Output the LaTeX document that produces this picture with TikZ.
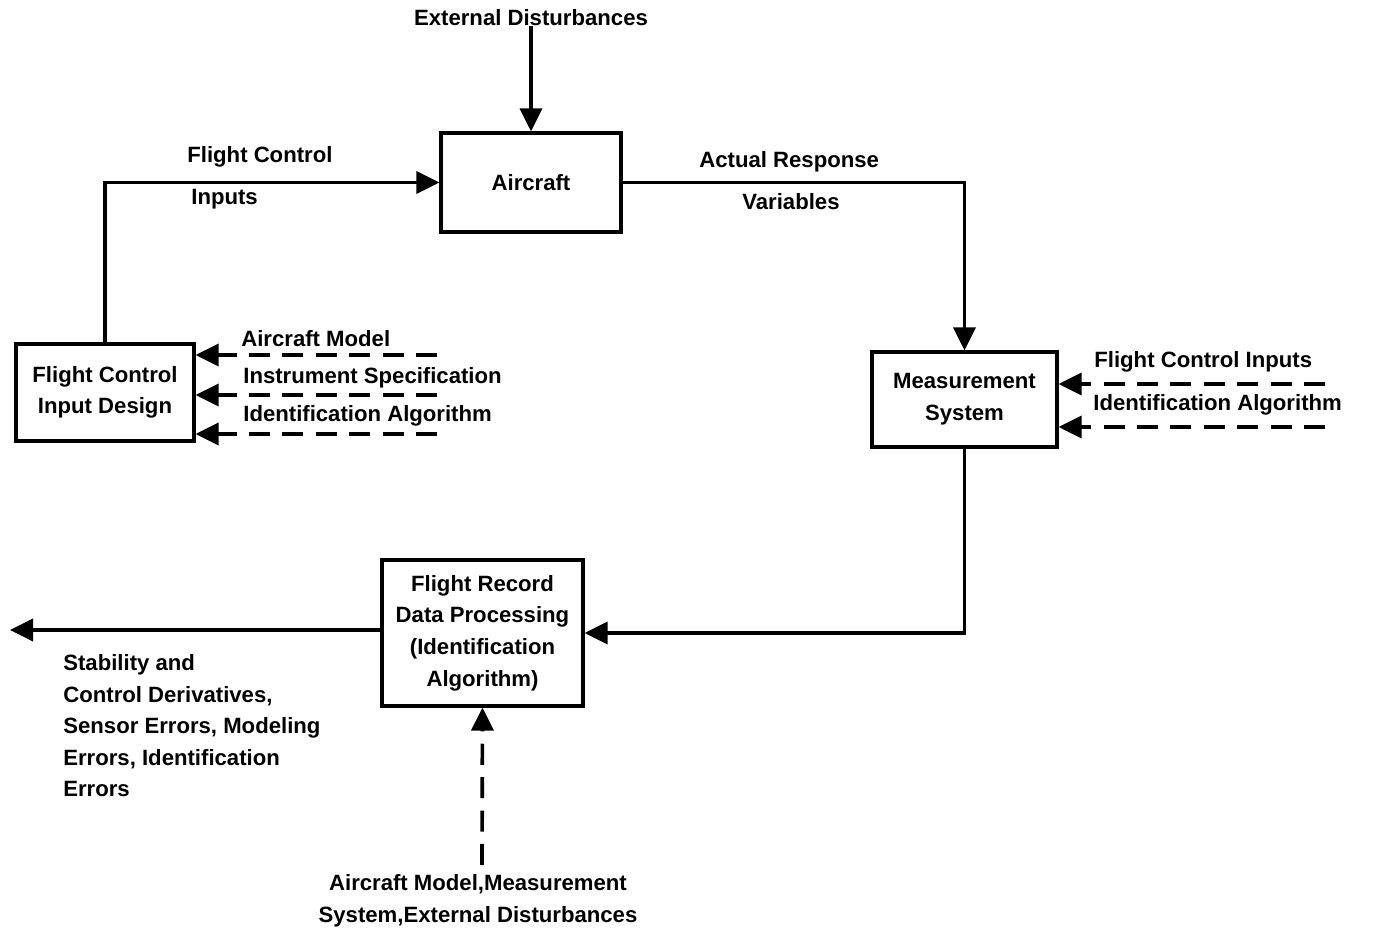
\documentclass[tikz,border=0pt]{standalone}
\usepackage{fontspec}
\setmainfont{Liberation Sans}
\usetikzlibrary{arrows.meta,positioning}

\begin{document}
\begin{tikzpicture}[
    box/.style={rectangle, draw, line width=1.8pt, align=center,
                font=\fontsize{12.6}{18}\selectfont\bfseries},
    lbl/.style={font=\fontsize{12.6}{18}\selectfont\bfseries, inner sep=0pt},
    arr/.style={-{Triangle[length=4.6mm,width=4.4mm]}, line width=2.1pt},
    dasharr/.style={arr, dash pattern=on 12pt off 7pt},
  ]
  \useasboundingbox (0,0) rectangle (27.48,-18.66);

  % Aircraft
  \node[box, minimum width=3.6cm, minimum height=1.98cm] (ac) at (10.62,-3.65)
    {Aircraft};
  \node[lbl] (ext) at (10.62,-0.36) {External Disturbances};

  % Input design
  \node[box, minimum width=3.56cm, minimum height=1.94cm] (fcid) at (2.1,-7.85)
    {Flight Control\\Input Design};

  % Measurement system
  \node[box, minimum width=3.7cm, minimum height=1.9cm] (meas) at (19.29,-7.99)
    {Measurement\\System};

  % Data processing
  \node[box, minimum width=4.02cm, minimum height=2.92cm] (rec) at (9.65,-12.66)
    {Flight Record\\Data Processing\\(Identification\\Algorithm)};

  % Main loop
  \draw[arr] (ext) -- (ac);
  \draw[arr] (fcid.north) |- (ac.west);
  \draw[arr] (ac.east) -| (meas.north);
  \draw[arr] (meas.south) |- (rec.east);
  \coordinate (out) at (0.2,-12.6);
  \draw[arr] (rec.west |- out) -- (out);

  % Loop labels
  \node[lbl, anchor=west] (fci1) at (3.74,-3.14) {Flight Control};
  \node[lbl, anchor=west] (fci2) at (3.82,-3.98) {Inputs};
  \node[lbl, anchor=west] (arv1) at (13.98,-3.24) {Actual Response};
  \node[lbl, anchor=west] (arv2) at (14.84,-4.04) {Variables};

  % Dashed inputs to input design
  \coordinate (am) at (8.74,-7.1);
  \coordinate (is) at (8.74,-7.9);
  \coordinate (ia) at (8.74,-8.68);
  \draw[dasharr] (am) -- (am -| fcid.east);
  \draw[dasharr] (is) -- (is -| fcid.east);
  \draw[dasharr] (ia) -- (ia -| fcid.east);
  \node[lbl, anchor=west] (amt) at (4.82,-6.78) {Aircraft Model};
  \node[lbl, anchor=west] (ist) at (4.86,-7.56) {Instrument Specification};
  \node[lbl, anchor=west] (iat) at (4.86,-8.32) {Identification Algorithm};

  % Dashed inputs to measurement system
  \coordinate (mfc) at (26.5,-7.68);
  \coordinate (mia) at (26.5,-8.54);
  \draw[dasharr] (mfc) -- (mfc -| meas.east);
  \draw[dasharr] (mia) -- (mia -| meas.east);
  \node[lbl, anchor=west] (mfct) at (21.88,-7.24) {Flight Control Inputs};
  \node[lbl, anchor=west] (miat) at (21.86,-8.1) {Identification Algorithm};

  % Dashed input to data processing
  \coordinate (apr) at (9.64,-17.3);
  \draw[dasharr] (apr) -- (rec.south);
  \node[lbl, align=center] (aprt) at (9.56,-18.02)
    {Aircraft Model,Measurement\\System,External Disturbances};

  % Results
  \node[lbl, align=left, anchor=north west] (res) at (1.26,-13.08)
    {Stability and\\Control Derivatives,\\Sensor Errors, Modeling\\Errors, Identification\\Errors};
\end{tikzpicture}
\end{document}
